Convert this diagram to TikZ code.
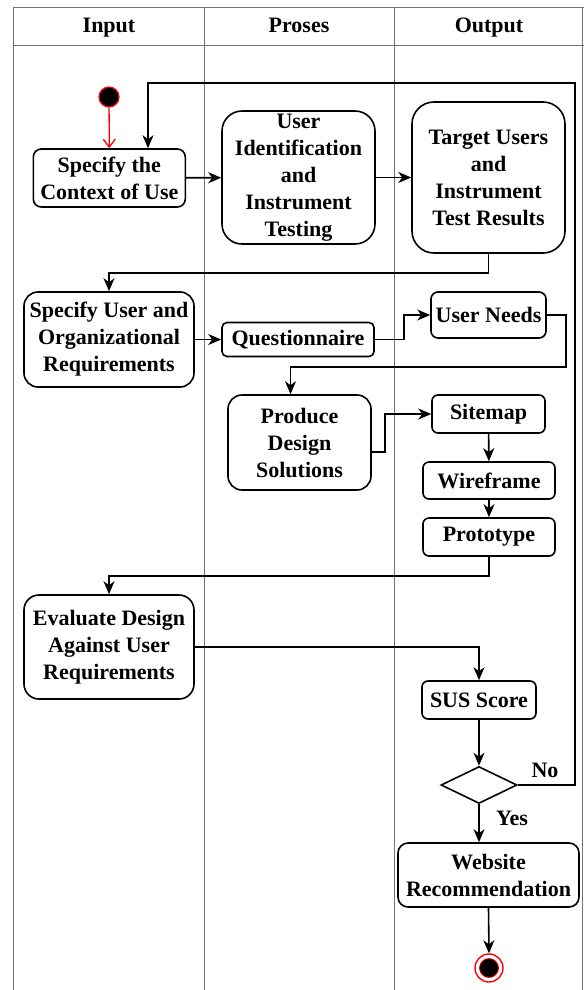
\documentclass[tikz,border=0pt]{standalone}
\usepackage{fontspec}
\setmainfont{Liberation Serif}
\usetikzlibrary{arrows.meta,shapes.geometric,calc}
\begin{document}
\begin{tikzpicture}[x=1pt,y=-1pt,
  lane/.style={draw=black!55, line width=0.9pt},
  txt/.style={font=\bfseries\fontsize{22}{27}\selectfont},
  act/.style={txt, draw=black, line width=1.6pt, fill=white, align=center, inner sep=0pt},
  flow/.style={draw=black, line width=1.6pt, -{Stealth[length=13pt,width=11pt,inset=4pt]}},
  lbl/.style={txt, inner sep=0pt}]
\useasboundingbox (0,0) rectangle (584,990);

% swimlanes
\draw[lane] (13,7.5) -- (584,7.5);
\draw[lane] (13,45) -- (584,45);
\draw[lane] (13,7.5) -- (13,990);
\draw[lane] (204.5,7.5) -- (204.5,990);
\draw[lane] (394,7.5) -- (394,990);
\draw[lane] (582.5,7.5) -- (582.5,990);
\node[lbl, anchor=base] (hIn) at (109,33) {Input};
\node[lbl, anchor=base] (hPr) at (299,33) {Proses};
\node[lbl, anchor=base] (hOut) at (489,33) {Output};

% start / end
\node[circle, draw=red, line width=1.2pt, fill=black, minimum size=20pt, inner sep=0pt] (start) at (109,97) {};
\node[circle, draw=red, line width=1.4pt, fill=white, minimum size=28pt, inner sep=0pt] (end) at (489,968) {};
\node[circle, draw=red, line width=0.8pt, fill=black, minimum size=19pt, inner sep=0pt] (endin) at (489,968) {};

% activities
\node[act, minimum width=152pt, minimum height=58pt, rounded corners=8pt] (ctx) at (109.3,178) {Specify the\\Context of Use};
\node[act, minimum width=153pt, minimum height=133pt, rounded corners=20pt] (uid) at (298.5,177.5) {User\\Identification\\and\\Instrument\\Testing};
\node[act, minimum width=153pt, minimum height=151pt, rounded corners=22pt] (tgt) at (488.5,177.5) {Target Users\\and\\Instrument\\Test Results};
\node[act, minimum width=170pt, minimum height=95pt, rounded corners=14pt] (req) at (109,339.5) {Specify User and\\Organizational\\Requirements};
\node[act, minimum width=152pt, minimum height=34pt, rounded corners=5pt] (qst) at (298,339.5) {Questionnaire};
\node[act, minimum width=115pt, minimum height=46pt, rounded corners=7pt] (need) at (488.5,315) {User Needs};
\node[act, minimum width=143pt, minimum height=95pt, rounded corners=14pt] (prod) at (299.5,442.5) {Produce\\Design\\Solutions};
\node[act, minimum width=113pt, minimum height=38pt, rounded corners=6pt] (site) at (488.5,414) {Sitemap};
\node[act, minimum width=132pt, minimum height=37pt, rounded corners=6pt] (wire) at (489,480.5) {Wireframe};
\node[act, minimum width=132pt, minimum height=38pt, rounded corners=6pt] (proto) at (489,537) {Prototype};
\node[act, minimum width=170pt, minimum height=104pt, rounded corners=15pt] (eval) at (109,647) {Evaluate Design\\Against User\\Requirements};
\node[act, minimum width=114pt, minimum height=38pt, rounded corners=6pt] (sus) at (479,700) {SUS Score};
\node[diamond, draw=black, line width=1.6pt, fill=white, minimum width=76pt, minimum height=37pt, inner sep=0pt] (dec) at (479,785) {};
\node[act, minimum width=181pt, minimum height=64pt, rounded corners=10pt] (web) at (488.5,875) {Website\\Recommendation};

% loop-back points
\coordinate (lpA) at (575,83);
\coordinate (lpB) at (148,83);

% connectors
\draw[flow, draw=red, line width=1.3pt, -{Straight Barb[length=8pt,width=12pt]}] (start) -- (ctx.north);
\draw[flow] (dec.east) -| (lpA) -- (lpB) -- (lpB |- ctx.north);
\draw[flow] (ctx) -- (uid);
\draw[flow] (uid) -- (tgt);
\draw[flow] (tgt.south) -- ++(0,19) -| (req.north);
\draw[flow] (req) -- (qst);
\draw[flow] (qst.east) -- ++(29,0) |- (need.west);
\draw[flow] (need.east) -- ++(19,0) -- ++(0,52) -| ([xshift=-9pt]prod.north);
\draw[flow] ([yshift=-9.5pt]prod.east) -- ++(13,0) |- (site.west);
\draw[flow] (site) -- (wire);
\draw[flow] (wire) -- (proto);
\draw[flow] (proto.south) -- ++(0,19) -| (eval.north);
\draw[flow] (eval.east) -| (sus.north);
\draw[flow] (sus) -- (dec);
\draw[flow] (dec.south) -- (dec.south |- web.north);
\draw[flow] (web.south) -- (end.north);

% guard labels
\node[lbl] (no) at (545,770) {No};
\node[lbl] (yes) at (512,818) {Yes};
\end{tikzpicture}
\end{document}
